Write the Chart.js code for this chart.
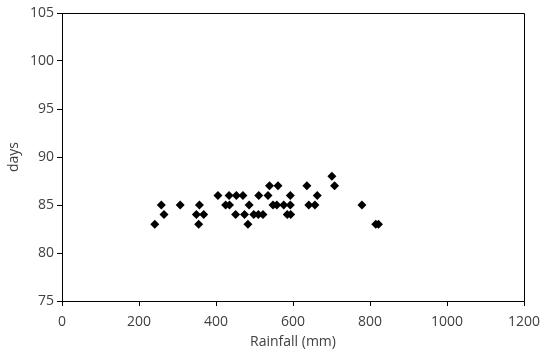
<!DOCTYPE html>
<html>
<head>
<meta charset="utf-8">
<script src="https://cdn.jsdelivr.net/npm/chart.js@4/dist/chart.umd.min.js"></script>
<style>
html,body{margin:0;padding:0;background:#fff;}
#wrap{width:542px;height:356px;position:relative;}
</style>
</head>
<body>
<div id="wrap"><canvas id="c" width="542" height="356"></canvas></div>
<script>
const rainfall = [241,258,265,307,357,349,368,355,405,434,453,470,425,435,451,474,486,483,498,510,522,511,535,539,561,548,558,576,593,593,585,594,636,641,657,663,701,708,779,815,822];
const days     = [83,85,84,85,85,84,84,83,86,86,86,86,85,85,84,84,85,83,84,84,84,86,86,87,87,85,85,85,85,86,84,84,87,85,85,86,88,87,85,83,83];
const xTitle = 'Rainfall (mm)';
const yTitle = 'days';

const points = rainfall.map((x, i) => ({x: x, y: days[i]}));
const textColor = '#404040';
const fontFam = '"Open Sans", "Liberation Sans", sans-serif';

const boxPlugin = {
  id: 'box',
  afterDraw(chart) {
    const a = chart.chartArea, ctx = chart.ctx;
    ctx.save();
    ctx.strokeStyle = '#000';
    ctx.lineWidth = 1;
    ctx.beginPath();
    ctx.moveTo(a.left, a.top + 0.5);
    ctx.lineTo(a.right + 0.5, a.top + 0.5);
    ctx.lineTo(a.right + 0.5, a.bottom);
    ctx.stroke();
    ctx.restore();
  }
};

new Chart(document.getElementById('c'), {
  type: 'scatter',
  data: {
    datasets: [{
      data: points,
      pointStyle: 'rectRot',
      pointRadius: 4.5,
      pointHoverRadius: 4.5,
      backgroundColor: '#000',
      borderColor: '#000',
      borderWidth: 0
    }]
  },
  options: {
    responsive: false,
    animation: false,
    events: [],
    layout: { padding: { top: 13, right: 18, left: 0, bottom: 0 } },
    plugins: { legend: { display: false }, tooltip: { enabled: false } },
    scales: {
      x: {
        type: 'linear', min: 0, max: 1200,
        afterFit: s => { s.height = 55; s.paddingRight = 0; s.paddingLeft = 0; },
        ticks: { stepSize: 200, color: textColor, font: { family: fontFam, size: 14 }, padding: 8, maxRotation: 0,
                 callback: v => String(v) },
        grid: { drawOnChartArea: false, tickLength: 5, color: '#000' },
        border: { color: '#000', width: 1 },
        title: { display: true, text: xTitle, color: textColor, font: { family: fontFam, size: 14 }, padding: { top: 0, bottom: 6 } }
      },
      y: {
        min: 75, max: 105,
        afterFit: s => { s.width = 62; s.paddingTop = 0; s.paddingBottom = 0; },
        ticks: { stepSize: 5, color: textColor, font: { family: fontFam, size: 14 }, padding: 3 },
        grid: { drawOnChartArea: false, tickLength: 5, color: '#000' },
        border: { color: '#000', width: 1 },
        title: { display: true, text: yTitle, color: textColor, font: { family: fontFam, size: 14 }, padding: { top: 6, bottom: 0 } }
      }
    }
  },
  plugins: [boxPlugin]
});
</script>
</body>
</html>
